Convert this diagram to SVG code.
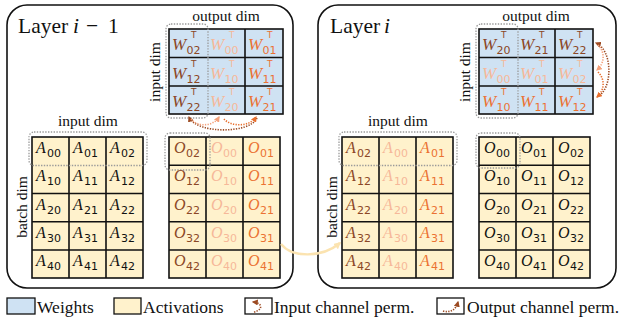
<svg xmlns="http://www.w3.org/2000/svg" width="619" height="325" viewBox="0 0 619 325">
  <style>
    .frame{fill:#fff;stroke:#111;stroke-width:1.6}
    .wbg{fill:#cfe2f3}
    .abg{fill:#fff2cc}
    .grid{fill:none;stroke:#111;stroke-width:1.6}
    .sel{fill:none;stroke:#9a9a9a;stroke-width:1.3;stroke-dasharray:1.4 1.4}
    .lbl{font-family:"Liberation Serif",serif;font-size:15.5px;fill:#111}
    .ttl{font-family:"Liberation Serif",serif;font-size:21.5px;fill:#111}
    .leg{font-family:"Liberation Serif",serif;font-size:17.5px;fill:#111}
    .it{font-style:italic}
    .w{font-family:"Liberation Serif",serif;font-style:italic;font-size:17px}
    .a{font-family:"Liberation Serif",serif;font-style:italic;font-size:16px}
    .sb{font-family:"DejaVu Sans",sans-serif;font-style:normal;font-size:11px}
    .sp{font-family:"DejaVu Sans",sans-serif;font-style:normal;font-size:9px}
    .k{fill:#111}
    .b{fill:#8b4726}
    .l{fill:#f6b899}
    .o{fill:#eb7233}
    .pb{fill:none;stroke:#9c4a22;stroke-width:1.6;stroke-dasharray:1.3 1.3}
    .pl{fill:none;stroke:#f4a27c;stroke-width:1.6;stroke-dasharray:1.3 1.3}
    .po{fill:none;stroke:#e8702f;stroke-width:1.6;stroke-dasharray:1.3 1.3}
    .flow{fill:none;stroke:#fbe3b0;stroke-width:2.4}
    .icon{fill:#fff;stroke:#111;stroke-width:1.3}
  </style>
  <defs>
    <marker id="hb" viewBox="0 0 10 10" refX="8" refY="5" markerWidth="6" markerHeight="6" markerUnits="userSpaceOnUse" orient="auto"><path d="M0,0 L10,5 L0,10 z" fill="#9c4a22"/></marker>
    <marker id="hl" viewBox="0 0 10 10" refX="8" refY="5" markerWidth="6" markerHeight="6" markerUnits="userSpaceOnUse" orient="auto"><path d="M0,0 L10,5 L0,10 z" fill="#f4a27c"/></marker>
    <marker id="ho" viewBox="0 0 10 10" refX="8" refY="5" markerWidth="6" markerHeight="6" markerUnits="userSpaceOnUse" orient="auto"><path d="M0,0 L10,5 L0,10 z" fill="#e8702f"/></marker>
    <marker id="hy" viewBox="0 0 10 10" refX="8" refY="5" markerWidth="7" markerHeight="7" markerUnits="userSpaceOnUse" orient="auto"><path d="M0,0 L10,5 L0,10 z" fill="#fbe3b0"/></marker>
  </defs>

  <!-- Layer i-1 -->
  <g id="layer-prev">
    <rect class="frame" x="7" y="5" width="286" height="283" rx="20"/>
    <text class="ttl" x="18" y="33">Layer</text>
    <text class="ttl it" x="73" y="33">i</text>
    <text class="ttl" x="86" y="33">−</text>
    <text class="ttl" x="108" y="33">1</text>
  </g>

  <!-- Layer i -->
  <g id="layer-cur">
    <rect class="frame" x="318" y="5" width="298" height="283" rx="20"/>
    <text class="ttl" x="330" y="33">Layer</text>
    <text class="ttl it" x="384" y="33">i</text>
  </g>

  <!-- weights of layer i-1 (columns permuted) -->
  <g id="weights-prev">
    <rect class="wbg" x="169" y="29" width="114" height="85"/>
    <path class="grid" d="M245,29V114 M169,57.5H283 M169,86H283"/>
    <rect class="grid" x="169" y="29" width="114" height="85"/>
    <rect class="sel" x="166" y="24" width="42" height="94" rx="5"/>
    <text class="lbl" x="226" y="21" text-anchor="middle">output dim</text>
    <text class="lbl" transform="translate(160,72) rotate(-90)" text-anchor="middle">input dim</text>
    <text class="w b" x="172" y="50">W<tspan class="sp" x="191" y="38">T</tspan><tspan class="sb" x="186.5" y="54">02</tspan></text>
    <text class="w l" x="210" y="50">W<tspan class="sp" x="229" y="38">T</tspan><tspan class="sb" x="224.5" y="54">00</tspan></text>
    <text class="w o" x="248" y="50">W<tspan class="sp" x="267" y="38">T</tspan><tspan class="sb" x="262.5" y="54">01</tspan></text>
    <text class="w b" x="172" y="78.5">W<tspan class="sp" x="191" y="66.5">T</tspan><tspan class="sb" x="186.5" y="82.5">12</tspan></text>
    <text class="w l" x="210" y="78.5">W<tspan class="sp" x="229" y="66.5">T</tspan><tspan class="sb" x="224.5" y="82.5">10</tspan></text>
    <text class="w o" x="248" y="78.5">W<tspan class="sp" x="267" y="66.5">T</tspan><tspan class="sb" x="262.5" y="82.5">11</tspan></text>
    <text class="w b" x="172" y="107">W<tspan class="sp" x="191" y="95">T</tspan><tspan class="sb" x="186.5" y="111">22</tspan></text>
    <text class="w l" x="210" y="107">W<tspan class="sp" x="229" y="95">T</tspan><tspan class="sb" x="224.5" y="111">20</tspan></text>
    <text class="w o" x="248" y="107">W<tspan class="sp" x="267" y="95">T</tspan><tspan class="sb" x="262.5" y="111">21</tspan></text>
  </g>

  <!-- activations of layer i-1 -->
  <g id="acts-prev">
    <rect class="abg" x="32" y="137" width="111" height="141"/>
    <path class="grid" d="M69,137V278 M106,137V278 M32,193.5H143 M32,221.75H143 M32,250H143"/>
    <rect class="grid" x="32" y="137" width="111" height="141"/>
    <rect class="sel" x="29" y="132" width="118" height="33.5" rx="5"/>
    <text class="lbl" x="88" y="126" text-anchor="middle">input dim</text>
    <text class="lbl" transform="translate(27,207) rotate(-90)" text-anchor="middle">batch dim</text>
    <text class="a k" x="36" y="153">A<tspan class="sb" x="47" y="157">00</tspan></text>
    <text class="a k" x="73" y="153">A<tspan class="sb" x="84" y="157">01</tspan></text>
    <text class="a k" x="110" y="153">A<tspan class="sb" x="121" y="157">02</tspan></text>
    <text class="a k" x="36" y="181.3">A<tspan class="sb" x="47" y="185.3">10</tspan></text>
    <text class="a k" x="73" y="181.3">A<tspan class="sb" x="84" y="185.3">11</tspan></text>
    <text class="a k" x="110" y="181.3">A<tspan class="sb" x="121" y="185.3">12</tspan></text>
    <text class="a k" x="36" y="209.5">A<tspan class="sb" x="47" y="213.5">20</tspan></text>
    <text class="a k" x="73" y="209.5">A<tspan class="sb" x="84" y="213.5">21</tspan></text>
    <text class="a k" x="110" y="209.5">A<tspan class="sb" x="121" y="213.5">22</tspan></text>
    <text class="a k" x="36" y="237.8">A<tspan class="sb" x="47" y="241.8">30</tspan></text>
    <text class="a k" x="73" y="237.8">A<tspan class="sb" x="84" y="241.8">31</tspan></text>
    <text class="a k" x="110" y="237.8">A<tspan class="sb" x="121" y="241.8">32</tspan></text>
    <text class="a k" x="36" y="266">A<tspan class="sb" x="47" y="270">40</tspan></text>
    <text class="a k" x="73" y="266">A<tspan class="sb" x="84" y="270">41</tspan></text>
    <text class="a k" x="110" y="266">A<tspan class="sb" x="121" y="270">42</tspan></text>
  </g>

  <!-- outputs of layer i-1 -->
  <g id="outs-prev">
    <rect class="abg" x="169" y="137" width="111" height="141"/>
    <path class="grid" d="M206,137V278 M243,137V278 M169,165.25H280 M169,193.5H280 M169,221.75H280 M169,250H280"/>
    <rect class="grid" x="169" y="137" width="111" height="141"/>
    <rect class="sel" x="165" y="133" width="45" height="37" rx="5"/>
    <text class="a b" x="174" y="153">O<tspan class="sb" x="186" y="157">02</tspan></text>
    <text class="a l" x="211" y="153">O<tspan class="sb" x="223" y="157">00</tspan></text>
    <text class="a o" x="248" y="153">O<tspan class="sb" x="260" y="157">01</tspan></text>
    <text class="a b" x="174" y="181.3">O<tspan class="sb" x="186" y="185.3">12</tspan></text>
    <text class="a l" x="211" y="181.3">O<tspan class="sb" x="223" y="185.3">10</tspan></text>
    <text class="a o" x="248" y="181.3">O<tspan class="sb" x="260" y="185.3">11</tspan></text>
    <text class="a b" x="174" y="209.5">O<tspan class="sb" x="186" y="213.5">22</tspan></text>
    <text class="a l" x="211" y="209.5">O<tspan class="sb" x="223" y="213.5">20</tspan></text>
    <text class="a o" x="248" y="209.5">O<tspan class="sb" x="260" y="213.5">21</tspan></text>
    <text class="a b" x="174" y="237.8">O<tspan class="sb" x="186" y="241.8">32</tspan></text>
    <text class="a l" x="211" y="237.8">O<tspan class="sb" x="223" y="241.8">30</tspan></text>
    <text class="a o" x="248" y="237.8">O<tspan class="sb" x="260" y="241.8">31</tspan></text>
    <text class="a b" x="174" y="266">O<tspan class="sb" x="186" y="270">42</tspan></text>
    <text class="a l" x="211" y="266">O<tspan class="sb" x="223" y="270">40</tspan></text>
    <text class="a o" x="248" y="266">O<tspan class="sb" x="260" y="270">41</tspan></text>
  </g>

  <!-- weights of layer i (rows permuted) -->
  <g id="weights-cur">
    <rect class="wbg" x="479" y="29" width="114" height="85"/>
    <path class="grid" d="M555,29V114 M479,57.5H593 M479,86H593"/>
    <rect class="grid" x="479" y="29" width="114" height="85"/>
    <rect class="sel" x="476" y="24" width="42" height="94" rx="5"/>
    <text class="lbl" x="536" y="21" text-anchor="middle">output dim</text>
    <text class="lbl" transform="translate(470,72) rotate(-90)" text-anchor="middle">input dim</text>
    <text class="w b" x="482" y="50">W<tspan class="sp" x="501" y="38">T</tspan><tspan class="sb" x="496.5" y="54">20</tspan></text>
    <text class="w b" x="520" y="50">W<tspan class="sp" x="539" y="38">T</tspan><tspan class="sb" x="534.5" y="54">21</tspan></text>
    <text class="w b" x="558" y="50">W<tspan class="sp" x="577" y="38">T</tspan><tspan class="sb" x="572.5" y="54">22</tspan></text>
    <text class="w l" x="482" y="78.5">W<tspan class="sp" x="501" y="66.5">T</tspan><tspan class="sb" x="496.5" y="82.5">00</tspan></text>
    <text class="w l" x="520" y="78.5">W<tspan class="sp" x="539" y="66.5">T</tspan><tspan class="sb" x="534.5" y="82.5">01</tspan></text>
    <text class="w l" x="558" y="78.5">W<tspan class="sp" x="577" y="66.5">T</tspan><tspan class="sb" x="572.5" y="82.5">02</tspan></text>
    <text class="w o" x="482" y="107">W<tspan class="sp" x="501" y="95">T</tspan><tspan class="sb" x="496.5" y="111">10</tspan></text>
    <text class="w o" x="520" y="107">W<tspan class="sp" x="539" y="95">T</tspan><tspan class="sb" x="534.5" y="111">11</tspan></text>
    <text class="w o" x="558" y="107">W<tspan class="sp" x="577" y="95">T</tspan><tspan class="sb" x="572.5" y="111">12</tspan></text>
  </g>

  <!-- activations of layer i -->
  <g id="acts-cur">
    <rect class="abg" x="342" y="137" width="111" height="141"/>
    <path class="grid" d="M379,137V278 M416,137V278 M342,193.5H453 M342,221.75H453 M342,250H453"/>
    <rect class="grid" x="342" y="137" width="111" height="141"/>
    <rect class="sel" x="339" y="132" width="118" height="33.5" rx="5"/>
    <text class="lbl" x="398" y="126" text-anchor="middle">input dim</text>
    <text class="lbl" transform="translate(337,207) rotate(-90)" text-anchor="middle">batch dim</text>
    <text class="a b" x="346" y="153">A<tspan class="sb" x="357" y="157">02</tspan></text>
    <text class="a l" x="383" y="153">A<tspan class="sb" x="394" y="157">00</tspan></text>
    <text class="a o" x="420" y="153">A<tspan class="sb" x="431" y="157">01</tspan></text>
    <text class="a b" x="346" y="181.3">A<tspan class="sb" x="357" y="185.3">12</tspan></text>
    <text class="a l" x="383" y="181.3">A<tspan class="sb" x="394" y="185.3">10</tspan></text>
    <text class="a o" x="420" y="181.3">A<tspan class="sb" x="431" y="185.3">11</tspan></text>
    <text class="a b" x="346" y="209.5">A<tspan class="sb" x="357" y="213.5">22</tspan></text>
    <text class="a l" x="383" y="209.5">A<tspan class="sb" x="394" y="213.5">20</tspan></text>
    <text class="a o" x="420" y="209.5">A<tspan class="sb" x="431" y="213.5">21</tspan></text>
    <text class="a b" x="346" y="237.8">A<tspan class="sb" x="357" y="241.8">32</tspan></text>
    <text class="a l" x="383" y="237.8">A<tspan class="sb" x="394" y="241.8">30</tspan></text>
    <text class="a o" x="420" y="237.8">A<tspan class="sb" x="431" y="241.8">31</tspan></text>
    <text class="a b" x="346" y="266">A<tspan class="sb" x="357" y="270">42</tspan></text>
    <text class="a l" x="383" y="266">A<tspan class="sb" x="394" y="270">40</tspan></text>
    <text class="a o" x="420" y="266">A<tspan class="sb" x="431" y="270">41</tspan></text>
  </g>

  <!-- outputs of layer i -->
  <g id="outs-cur">
    <rect class="abg" x="479" y="137" width="111" height="141"/>
    <path class="grid" d="M516,137V278 M553,137V278 M479,165.25H590 M479,193.5H590 M479,221.75H590 M479,250H590"/>
    <rect class="grid" x="479" y="137" width="111" height="141"/>
    <rect class="sel" x="476" y="133" width="44" height="35" rx="5"/>
    <text class="a k" x="484" y="153">O<tspan class="sb" x="496" y="157">00</tspan></text>
    <text class="a k" x="521" y="153">O<tspan class="sb" x="533" y="157">01</tspan></text>
    <text class="a k" x="558" y="153">O<tspan class="sb" x="570" y="157">02</tspan></text>
    <text class="a k" x="484" y="181.3">O<tspan class="sb" x="496" y="185.3">10</tspan></text>
    <text class="a k" x="521" y="181.3">O<tspan class="sb" x="533" y="185.3">11</tspan></text>
    <text class="a k" x="558" y="181.3">O<tspan class="sb" x="570" y="185.3">12</tspan></text>
    <text class="a k" x="484" y="209.5">O<tspan class="sb" x="496" y="213.5">20</tspan></text>
    <text class="a k" x="521" y="209.5">O<tspan class="sb" x="533" y="213.5">21</tspan></text>
    <text class="a k" x="558" y="209.5">O<tspan class="sb" x="570" y="213.5">22</tspan></text>
    <text class="a k" x="484" y="237.8">O<tspan class="sb" x="496" y="241.8">30</tspan></text>
    <text class="a k" x="521" y="237.8">O<tspan class="sb" x="533" y="241.8">31</tspan></text>
    <text class="a k" x="558" y="237.8">O<tspan class="sb" x="570" y="241.8">32</tspan></text>
    <text class="a k" x="484" y="266">O<tspan class="sb" x="496" y="270">40</tspan></text>
    <text class="a k" x="521" y="266">O<tspan class="sb" x="533" y="270">41</tspan></text>
    <text class="a k" x="558" y="266">O<tspan class="sb" x="570" y="270">42</tspan></text>
  </g>

  <!-- connectors: permutation arcs and the layer-to-layer flow -->
  <g id="connectors">
    <path class="pb" d="M257,118 C250,134 196,134 189,117" marker-end="url(#hb)"/>
    <path class="pl" d="M191,119 C197,127 213,127 219,117" marker-end="url(#hl)"/>
    <path class="po" d="M224,119 C231,127 250,127 256,117" marker-end="url(#ho)"/>
    <path class="pb" d="M597,97 C613,90 613,50 596,43" marker-end="url(#hb)"/>
    <path class="pl" d="M598,45 C605,52 605,63 597,70" marker-end="url(#hl)"/>
    <path class="po" d="M598,72 C605,79 605,90 597,97" marker-end="url(#ho)"/>
    <path class="flow" d="M281,244 C292,258 322,258 340,243" marker-end="url(#hy)"/>
  </g>

  <!-- legend -->
  <g id="legend">
    <rect x="7" y="298" width="28" height="16" fill="#cfe2f3" stroke="#111" stroke-width="1.3"/>
    <text class="leg" x="37" y="313">Weights</text>
    <rect x="114" y="298" width="27" height="16" fill="#fff2cc" stroke="#111" stroke-width="1.3"/>
    <text class="leg" x="143" y="313">Activations</text>
    <rect class="icon" x="245" y="298" width="27" height="16"/>
    <path class="pb" d="M254,312 C263,310 263,303 253,302" marker-end="url(#hb)"/>
    <text class="leg" x="274" y="313">Input channel perm.</text>
    <rect class="icon" x="437" y="298" width="27" height="16"/>
    <path class="pb" d="M443,311 C450,313 456,310 458,302" marker-end="url(#hb)"/>
    <text class="leg" x="467" y="313">Output channel perm.</text>
  </g>
</svg>
